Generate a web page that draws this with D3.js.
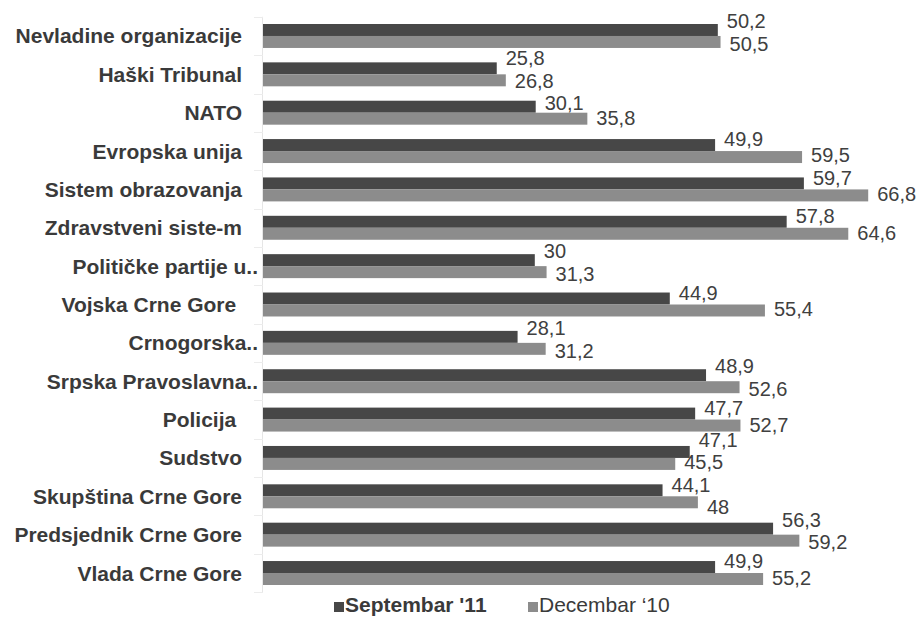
<!DOCTYPE html>
<html>
<head>
<meta charset="utf-8">
<script src="https://cdn.jsdelivr.net/npm/d3@7"></script>
<style>
  html, body { margin: 0; padding: 0; background: #ffffff; }
  svg { display: block; }
  text { font-family: "Liberation Sans", Arial, sans-serif; }
</style>
</head>
<body>
<svg id="chart" width="919" height="618"></svg>
<script>
// ---- data ----
const categories = [
  "Nevladine organizacije",
  "Haški Tribunal",
  "NATO",
  "Evropska unija",
  "Sistem obrazovanja",
  "Zdravstveni siste-m",
  "Političke partije u..",
  "Vojska Crne Gore ",
  "Crnogorska..",
  "Srpska Pravoslavna..",
  "Policija ",
  "Sudstvo",
  "Skupština Crne Gore",
  "Predsjednik Crne Gore",
  "Vlada Crne Gore"
];
const seriesNames = ["Septembar '11", "Decembar ‘10"];
const septembar11 = [50.2, 25.8, 30.1, 49.9, 59.7, 57.8, 30, 44.9, 28.1, 48.9, 47.7, 47.1, 44.1, 56.3, 49.9];
const decembar10  = [50.5, 26.8, 35.8, 59.5, 66.8, 64.6, 31.3, 55.4, 31.2, 52.6, 52.7, 45.5, 48, 59.2, 55.2];
const seriesValues = [septembar11, decembar10];
const seriesColors = ["#474747", "#8c8c8c"];

// ---- layout ----
const svg = d3.select("#chart");
const axisX = 263;
const plotTop = 16.8, plotBottom = 592.2;

const x = d3.scaleLinear().domain([0, 70]).range([axisX, axisX + 70 * 9.06]);
const y = d3.scaleBand().domain(categories).range([plotTop, plotBottom]).padding(0);
const ySub = d3.scaleBand().domain([0, 1]).range([7.2, y.bandwidth() - 7.2]).padding(0);

// axis line + boundary ticks
const axisG = svg.append("g");
axisG.append("line")
  .attr("x1", axisX - 0.5).attr("x2", axisX - 0.5)
  .attr("y1", plotTop).attr("y2", plotBottom)
  .attr("stroke", "#e6e6e6").attr("stroke-width", 1);
const boundaries = categories.map(c => y(c)).concat([plotBottom]);
axisG.selectAll("line.tick").data(boundaries).enter().append("line")
  .attr("class", "tick")
  .attr("x1", axisX - 9).attr("x2", axisX)
  .attr("y1", d => Math.round(d) + 0.5).attr("y2", d => Math.round(d) + 0.5)
  .attr("stroke", "#ececec").attr("stroke-width", 1);

// category labels
svg.append("g").selectAll("text").data(categories).enter().append("text")
  .attr("x", d => d.trimEnd().endsWith("..") ? 258 : 242)
  .attr("y", d => y(d) + y.bandwidth() / 2 + 7.5)
  .attr("text-anchor", "end")
  .attr("font-size", 21)
  .attr("font-weight", "bold")
  .attr("fill", "#3a3a3a")
  .style("white-space", "pre")
  .text(d => d);

// bars
const fmt = v => String(v).replace(".", ",");
seriesValues.forEach((vals, si) => {
  const g = svg.append("g");
  g.selectAll("rect").data(vals).enter().append("rect")
    .attr("x", x(0))
    .attr("y", (d, i) => y(categories[i]) + ySub(si))
    .attr("width", d => x(d) - x(0))
    .attr("height", ySub.bandwidth())
    .attr("fill", seriesColors[si]);
});

// value labels: start near their bar, then relax apart where they collide
const labelG = svg.append("g");
const labels = [];
categories.forEach((c, i) => {
  seriesValues.forEach((vals, si) => {
    const t = labelG.append("text")
      .attr("font-size", 20)
      .attr("fill", "#404040")
      .text(fmt(vals[i]));
    const w = t.node().getComputedTextLength();
    const x0 = x(vals[i]) + 9;
    const cy = y(c) + ySub(si) + ySub.bandwidth() / 2 + (si === 0 ? -6 : -1);
    labels.push({t, x0, w, cy});
  });
});
const H = 22.5;
for (let it = 0; it < 200; it++) {
  for (let a = 0; a < labels.length; a++) {
    for (let b = a + 1; b < labels.length; b++) {
      const A = labels[a], B = labels[b];
      if (A.x0 < B.x0 + B.w && B.x0 < A.x0 + A.w) {
        const d = B.cy - A.cy;
        if (Math.abs(d) < H) {
          const push = (H - Math.abs(d)) / 2 + 0.01;
          const s = d >= 0 ? 1 : -1;
          A.cy -= s * push;
          B.cy += s * push;
        }
      }
    }
  }
}
labels.forEach(l => l.t.attr("x", l.x0).attr("y", l.cy + 7));

// legend
const legend = svg.append("g");
const legendItems = [{x: 334, bold: true}, {x: 528, bold: false}];
legendItems.forEach((it, i) => {
  legend.append("rect")
    .attr("x", it.x).attr("y", 602)
    .attr("width", 10).attr("height", 10)
    .attr("fill", seriesColors[i]);
  legend.append("text")
    .attr("x", it.x + 11).attr("y", 612)
    .attr("font-size", 21)
    .attr("font-weight", it.bold ? "bold" : "normal")
    .attr("fill", "#3a3a3a")
    .text(seriesNames[i]);
});
</script>
</body>
</html>
